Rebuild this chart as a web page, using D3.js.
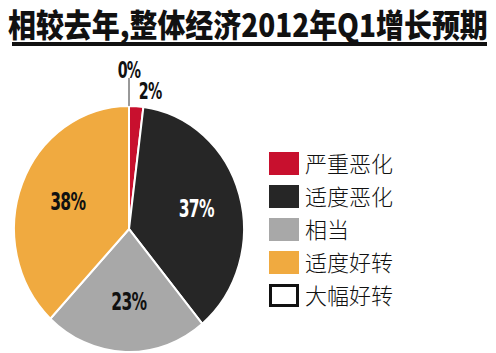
<!DOCTYPE html>
<html>
<head>
<meta charset="utf-8">
<script src="https://cdn.jsdelivr.net/npm/d3@7"></script>
<style>
  body { margin: 0; background: #fff; }
</style>
</head>
<body>
<div id="wrapper"></div>
<script>
// data
const categories = ['严重恶化', '适度恶化', '相当', '适度好转', '大幅好转']
const values = [2, 37, 23, 38, 0]
const colors = ['#c8102e', '#262626', '#a8a8a8', '#f0aa40', '#ffffff']
const labelColors = ['#111', '#fff', '#111', '#111', '#111']
const title = '相较去年,整体经济2012年Q1增长预期'

const dataset = categories.map((c, i) => ({ name: c, value: values[i], color: colors[i], labelColor: labelColors[i] }))

const dimensions = { width: 496, height: 353 }
const center = { x: 129, y: 229 }
const radius = 115

const wrapper = d3.select('#wrapper')
  .append('svg')
  .attr('width', dimensions.width)
  .attr('height', dimensions.height)

// title, squeezed to the width of the rule under it
const titleText = wrapper.append('text')
  .style('font-family', '"Noto Sans CJK SC", sans-serif')
  .style('font-weight', 900)
  .style('font-size', '29px')
  .attr('fill', '#111')
  .text(title)
const titleW = titleText.node().getComputedTextLength()
titleText.attr('transform', `translate(8, 37) scale(${480 / titleW}, 1.1)`)

wrapper.append('rect')
  .attr('x', 12).attr('y', 42)
  .attr('width', 475).attr('height', 4)
  .attr('fill', '#111')

// pie
const pie = d3.pie().sort(null).value(d => d.value)
const arcs = pie(dataset)
const arc = d3.arc().innerRadius(0).outerRadius(radius)
const labelArc = d3.arc().innerRadius(68).outerRadius(68)

const bounds = wrapper.append('g')
  .attr('transform', `translate(${center.x}, ${center.y}) scale(1, 1.07)`)

bounds.selectAll('path')
  .data(arcs)
  .join('path')
  .attr('d', arc)
  .attr('fill', d => d.data.color)
  .attr('stroke', '#fff')
  .attr('stroke-width', 2)

const labelFont = '"DejaVu Sans Condensed", "DejaVu Sans", sans-serif'

// pct label drawn narrow, like a condensed poster face
const addLabel = (x, y, txt, fill, size) => wrapper.append('text')
  .attr('transform', `translate(${x}, ${y}) scale(0.72, 1.05)`)
  .attr('text-anchor', 'middle')
  .style('font-family', labelFont)
  .style('font-weight', 'bold')
  .style('font-size', size + 'px')
  .style('letter-spacing', '-1px')
  .attr('fill', fill)
  .text(txt)

// inside labels for big slices
arcs.filter(d => d.data.value >= 10).forEach(d => {
  const [cx, cy] = labelArc.centroid(d)
  addLabel(center.x + cx + 2, center.y + cy * 1.07 + 8, d.data.value + '%', d.data.labelColor, 24)
})

// small slice labels outside
const red = arcs[0]
const redMid = (red.startAngle + red.endAngle) / 2
addLabel(center.x + Math.sin(redMid) * (radius + 16) + 13,
  center.y - Math.cos(redMid) * (radius + 16) * 1.07 + 10,
  red.data.value + '%', '#111', 22)

const zero = arcs[4]
wrapper.append('line')
  .attr('x1', center.x + Math.sin(zero.startAngle) * radius)
  .attr('x2', center.x + Math.sin(zero.startAngle) * radius)
  .attr('y1', center.y - radius * 1.07)
  .attr('y2', 78)
  .attr('stroke', '#333')
  .attr('stroke-width', 1)

addLabel(center.x, 78, zero.data.value + '%', '#111', 22)

// legend
const legend = wrapper.append('g')
  .attr('transform', 'translate(269, 152)')

const items = legend.selectAll('g')
  .data(dataset)
  .join('g')
  .attr('transform', (d, i) => `translate(0, ${i * 33})`)

items.append('rect')
  .attr('x', d => d.value === 0 ? 1.5 : 0)
  .attr('y', d => d.value === 0 ? 1.5 : 0)
  .attr('width', d => d.value === 0 ? 27 : 30)
  .attr('height', d => d.value === 0 ? 20 : 23)
  .attr('fill', d => d.color)
  .attr('stroke', d => d.value === 0 ? '#111' : 'none')
  .attr('stroke-width', 3)

items.append('text')
  .attr('x', 36)
  .attr('y', 20)
  .style('font-family', '"Noto Sans CJK SC", sans-serif')
  .style('font-weight', 300)
  .style('font-size', '22px')
  .attr('fill', '#111')
  .text(d => d.name)
</script>
</body>
</html>
